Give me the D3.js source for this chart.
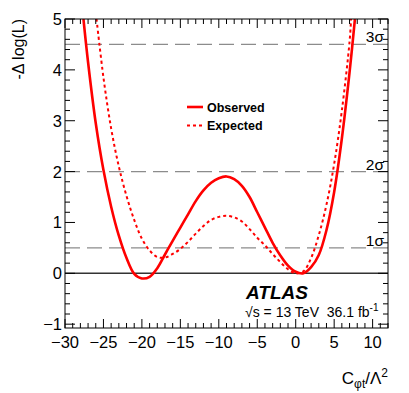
<!DOCTYPE html>
<html>
<head>
<meta charset="utf-8">
<script src="https://cdn.jsdelivr.net/npm/d3@7"></script>
<style>
  body { margin: 0; background: #fff; }
  text { font-family: "Liberation Sans", Arial, Helvetica, sans-serif; }
</style>
</head>
<body>
<div id="chart"></div>
<script>
// values
var obsX = [-27.6, -27, -26, -25, -24, -23, -22, -21, -20, -19, -18, -17, -16, -15, -14, -13, -12, -11, -10, -9, -8, -7, -6, -5, -4, -3, -2, -1, 0, 1, 2, 3, 4, 5, 6, 7, 7.7];
var obsY = [5.0, 4.15, 2.95, 2.03, 1.31, 0.74, 0.30, -0.01, -0.10, -0.07, 0.10, 0.37, 0.64, 0.90, 1.16, 1.42, 1.63, 1.78, 1.87, 1.905, 1.85, 1.72, 1.50, 1.20, 0.90, 0.60, 0.35, 0.15, 0.03, 0.0, 0.12, 0.36, 0.85, 1.60, 2.65, 3.95, 5.0];

var expX = [-25.9, -25, -24, -23, -22, -21, -20, -19, -18, -17, -16, -15, -14, -13, -12, -11, -10, -9, -8, -7, -6, -5, -4, -3, -2, -1, 0, 1, 2, 3, 4, 5, 6, 7, 7.2];
var expY = [5.0, 3.85, 2.85, 2.1, 1.52, 1.05, 0.68, 0.45, 0.32, 0.31, 0.38, 0.48, 0.62, 0.78, 0.93, 1.05, 1.11, 1.13, 1.10, 1.02, 0.87, 0.70, 0.55, 0.38, 0.22, 0.08, 0.0, 0.04, 0.30, 0.75, 1.35, 2.15, 3.2, 4.55, 5.0];

var sigmaLevels = [0.5, 2, 4.5];
var sigmaLabels = ["1σ", "2σ", "3σ"];

var xTicks = [-30, -25, -20, -15, -10, -5, 0, 5, 10];
var yTicks = [-1, 0, 1, 2, 3, 4, 5];

// layout
var W = 409, H = 393;
var margin = {top: 19, right: 21, bottom: 65, left: 65};
var width = W - margin.left - margin.right,
    height = H - margin.top - margin.bottom;

var svg = d3.select("#chart")
  .append("svg")
    .attr("width", W)
    .attr("height", H);

var g = svg.append("g")
    .attr("transform", "translate(" + margin.left + "," + margin.top + ")");

var x = d3.scaleLinear().domain([-30, 12]).range([0, width]);
var y = d3.scaleLinear().domain([-1.075, 5]).range([height, 0]);

g.append("clipPath").attr("id", "clip")
  .append("rect").attr("width", width).attr("height", height);

// sigma lines
g.selectAll(".sig")
  .data(sigmaLevels)
  .enter().append("line")
    .attr("x1", 0).attr("x2", width)
    .attr("y1", function(d) { return y(d); })
    .attr("y2", function(d) { return y(d); })
    .attr("stroke", "#8c8c8c")
    .attr("stroke-width", 1.2)
    .attr("stroke-dasharray", "15,7");

g.selectAll(".siglab")
  .data(sigmaLevels)
  .enter().append("text")
    .attr("x", width - 4)
    .attr("y", function(d) { return y(d) - 2; })
    .attr("text-anchor", "end")
    .attr("font-size", 15.5)
    .text(function(d, i) { return sigmaLabels[i]; });

// zero line
g.append("line")
  .attr("x1", 0).attr("x2", width)
  .attr("y1", y(0)).attr("y2", y(0))
  .attr("stroke", "#333")
  .attr("stroke-width", 1.5);

// curves
var line = d3.line()
  .x(function(d) { return x(d[0]); })
  .y(function(d) { return y(d[1]); })
  .curve(d3.curveCatmullRom.alpha(0.5));

var obs = d3.zip(obsX, obsY);
var exp = d3.zip(expX, expY);

g.append("path")
  .datum(exp)
  .attr("clip-path", "url(#clip)")
  .attr("fill", "none")
  .attr("stroke", "#ff0000")
  .attr("stroke-width", 2)
  .attr("stroke-dasharray", "3,3")
  .attr("d", line);

g.append("path")
  .datum(obs)
  .attr("clip-path", "url(#clip)")
  .attr("fill", "none")
  .attr("stroke", "#ff0000")
  .attr("stroke-width", 2.6)
  .attr("d", line);

// ticks (inside, on all four sides)
var xMinor = d3.range(-30, 13, 1);
var yMinor = d3.range(-1, 5.001, 0.2).map(function(v) { return Math.round(v * 10) / 10; });

function isMajor(v) { return Math.abs(v - Math.round(v)) < 1e-6; }

var ticks = g.append("g").attr("stroke", "#000").attr("stroke-width", 1);
xMinor.forEach(function(v) {
  var len = (v % 5 === 0) ? 9 : 5;
  ticks.append("line").attr("x1", x(v)).attr("x2", x(v)).attr("y1", height).attr("y2", height - len);
  ticks.append("line").attr("x1", x(v)).attr("x2", x(v)).attr("y1", 0).attr("y2", len);
});
yMinor.forEach(function(v) {
  var len = isMajor(v) ? 10 : 5;
  ticks.append("line").attr("x1", 0).attr("x2", len).attr("y1", y(v)).attr("y2", y(v));
  ticks.append("line").attr("x1", width).attr("x2", width - len).attr("y1", y(v)).attr("y2", y(v));
});

// frame
g.append("rect")
  .attr("width", width).attr("height", height)
  .attr("fill", "none").attr("stroke", "#000").attr("stroke-width", 1);

// tick labels
g.selectAll(".xl")
  .data(xTicks)
  .enter().append("text")
    .attr("x", function(d) { return x(d); })
    .attr("y", height + 20)
    .attr("text-anchor", "middle")
    .attr("font-size", 16.5)
    .text(function(d) { return d < 0 ? "\u2212" + Math.abs(d) : d; });

g.selectAll(".yl")
  .data(yTicks)
  .enter().append("text")
    .attr("x", -3)
    .attr("y", function(d) { return y(d) + 6; })
    .attr("text-anchor", "end")
    .attr("font-size", 16.5)
    .text(function(d) { return d < 0 ? "\u2212" + Math.abs(d) : d; });

// axis titles
svg.append("text")
  .attr("transform", "translate(24," + margin.top + ") rotate(-90)")
  .attr("text-anchor", "end")
  .attr("font-size", 16)
  .text("-\u0394 log(L)");

var xt = svg.append("text")
  .attr("x", margin.left + width)
  .attr("y", 384)
  .attr("text-anchor", "end")
  .attr("font-size", 17);
xt.append("tspan").text("C");
xt.append("tspan").attr("font-size", 12).attr("dy", 4).text("\u03c6t");
xt.append("tspan").attr("dy", -4).text("/\u039b");
xt.append("tspan").attr("font-size", 12).attr("dy", -7).text("2");

// legend
var leg = [["Observed", null, 2.6], ["Expected", "3,3", 2]];
var lg = g.append("g").attr("transform", "translate(" + (187 - margin.left) + "," + (107 - margin.top) + ")");
leg.forEach(function(d, i) {
  lg.append("line")
    .attr("x1", 0).attr("x2", 16)
    .attr("y1", i * 18.5).attr("y2", i * 18.5)
    .attr("stroke", "#ff0000")
    .attr("stroke-width", d[2])
    .attr("stroke-dasharray", d[1]);
  lg.append("text")
    .attr("x", 20)
    .attr("y", i * 18.5 + 4.5)
    .attr("font-size", 12.5)
    .attr("font-weight", "bold")
    .text(d[0]);
});

// ATLAS label
svg.append("text")
  .attr("x", 246)
  .attr("y", 299)
  .attr("font-size", 19)
  .attr("font-weight", "bold")
  .attr("font-style", "italic")
  .text("ATLAS");

var lum = svg.append("text")
  .attr("x", 245)
  .attr("y", 317)
  .attr("font-size", 14);
lum.append("tspan").text("\u221As = 13 TeV\u00a0\u00a036.1 fb");
lum.append("tspan").attr("font-size", 10).attr("dy", -6).text("-1");
</script>
</body>
</html>
